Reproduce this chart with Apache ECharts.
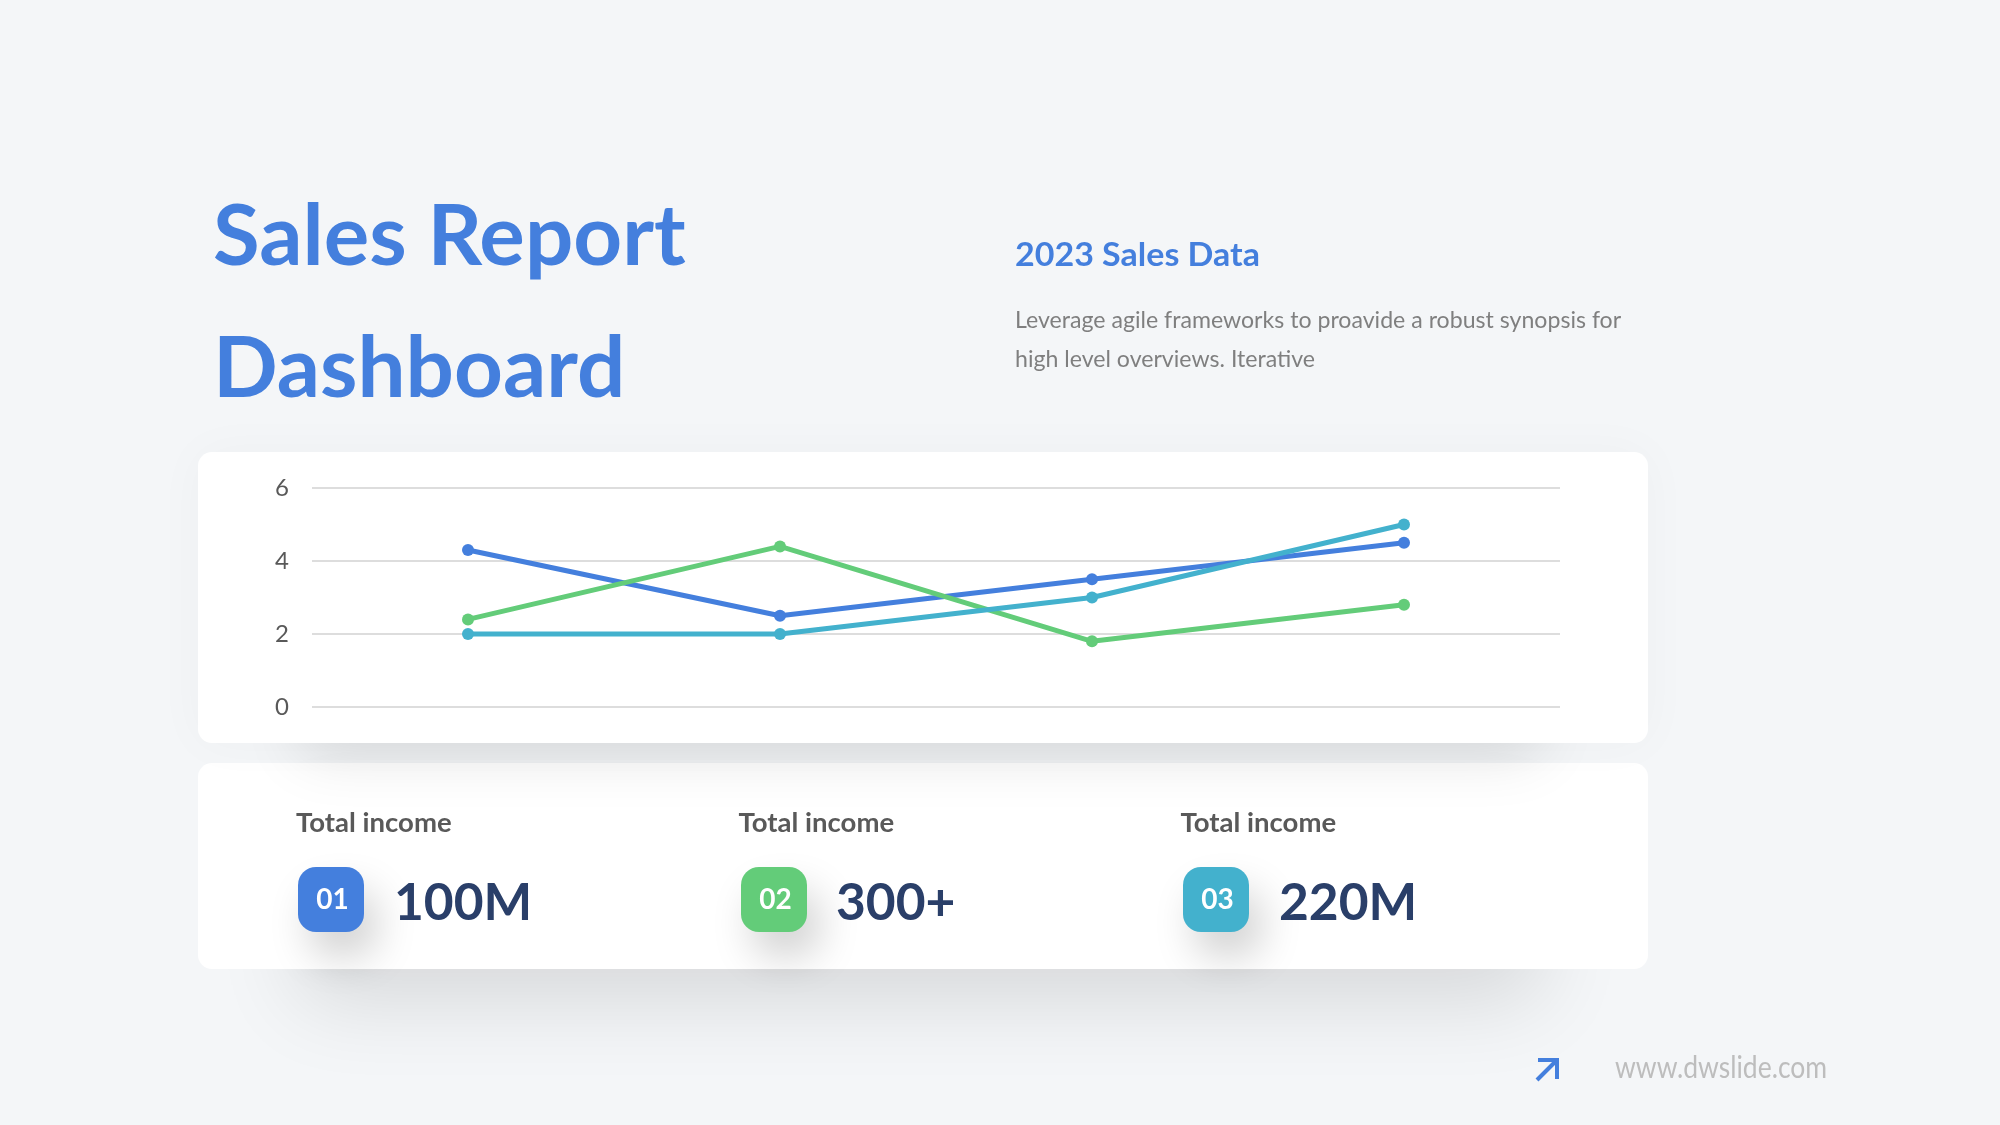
<!DOCTYPE html>
<html><head><meta charset="utf-8">
<style>html,body{margin:0;padding:0;background:#f4f6f8}#c{width:2000px;height:1125px}</style>
<script src="https://cdn.jsdelivr.net/npm/echarts@6/dist/echarts.min.js"></script></head>
<body><div id="c"></div>
<script>
const categories = ['Q1','Q2','Q3','Q4'];
const seriesBlue  = [4.3,2.5,3.5,4.5];
const seriesGreen = [2.4,4.4,1.8,2.8];
const seriesTeal  = [2,2,3,5];
const yTicks = [0,2,4,6];
const statLabels = ['Total income','Total income','Total income'];
const statBadges = ['01','02','03'];
const statValues = ['100M','300+','220M'];
const BLUE='#447fdd', GREEN='#63cc79', TEAL='#43b1cd', NAVY='#2a3f69';
const FONT='Lato';
const statColors=[BLUE,GREEN,TEAL];
const labelX=[296,738.5,1180.5], badgeX=[298,741,1183], valueX=[394,836,1279];

function txt(x,y,s,size,color,weight,sx){
  return {type:'text',x:x,y:y,scaleX:sx||1,silent:true,z:5,
    style:{text:s,fontFamily:FONT,fontSize:size,fontWeight:weight||'normal',fill:color,verticalAlign:'bottom',align:'left'}};
}
function rr(x,y,w,h,r,fill,extra){
  return {type:'rect',silent:true,z:1,shape:{x:x,y:y,width:w,height:h,r:r},style:Object.assign({fill:fill},extra||{})};
}
const g=[
  rr(300,790,1240,175,10,'#f4f6f8',{shadowBlur:85,shadowOffsetY:35,shadowColor:'rgba(0,0,0,0.12)'}),
  rr(198,763,1450,206,14,'#ffffff'),
  rr(300,520,1240,220,10,'#f4f6f8',{shadowBlur:60,shadowOffsetY:14,shadowColor:'rgba(0,0,0,0.12)'}),
  rr(198,452,1450,291,14,'#ffffff',{shadowBlur:50,shadowColor:'rgba(0,0,0,0.03)'}),
  txt(213,280,'Sales Report',84,BLUE,'bold',1.015),
  txt(213,412,'Dashboard',84,BLUE,'bold',1.015),
  txt(1015,272,'2023 Sales Data',33,BLUE,'bold',1.03),
  txt(1015,332,'Leverage agile frameworks to proavide a robust synopsis for',23,'#7f7f7f','normal',1.005),
  txt(1015,371,'high level overviews. Iterative',23,'#7f7f7f','normal',1.005),
  txt(1615,1083,'www.dwslide.com',31,'#bdbdbd','normal',0.855),
  {type:'polyline',silent:true,z:5,shape:{points:[[1538,1060],[1557,1060],[1557,1079]]},style:{stroke:BLUE,lineWidth:4,fill:null}},
  {type:'line',silent:true,z:5,shape:{x1:1556,y1:1061,x2:1537,y2:1080},style:{stroke:BLUE,lineWidth:4}}
];
statLabels.forEach((s,i)=>{
  g.push(txt(labelX[i],837,s,27,'#595959','bold',1.02));
  const b=rr(badgeX[i],867,66,65,18,statColors[i],{shadowBlur:40,shadowOffsetX:12,shadowOffsetY:24,shadowColor:'rgba(0,0,0,0.18)'});
  b.z=3; g.push(b);
  const t=txt(badgeX[i]+34.5,899.5,statBadges[i],28,'#ffffff','bold');
  t.style.align='center'; t.style.verticalAlign='middle';
  g.push(t);
  g.push(txt(valueX[i],929,statValues[i],52,NAVY,'bold',0.99));
});
const mk=(name,data,color)=>({name:name,type:'line',data:data,symbol:'circle',symbolSize:12,z:3,
  lineStyle:{color:color,width:5},itemStyle:{color:color},silent:true,animation:false});
const chart=echarts.init(document.getElementById('c'),null,{renderer:'canvas',width:2000,height:1125});
chart.setOption({
  backgroundColor:'#f4f6f8',animation:false,
  graphic:{elements:g},
  grid:{left:312,right:440,top:488,bottom:418,containLabel:false},
  xAxis:{type:'category',z:2,data:categories,boundaryGap:true,axisLine:{show:false},axisTick:{show:false},axisLabel:{show:false}},
  yAxis:{type:'value',z:2,min:yTicks[0],max:yTicks[yTicks.length-1],interval:yTicks[1]-yTicks[0],
    axisLine:{show:false},axisTick:{show:false},
    axisLabel:{fontFamily:FONT,fontSize:24,color:'#595959',margin:23},
    splitLine:{show:true,lineStyle:{color:'#d2d2d2',width:1.5}}},
  series:[mk('Series 1',seriesBlue,BLUE),mk('Series 2',seriesGreen,GREEN),mk('Series 3',seriesTeal,TEAL)]
});
</script></body></html>
